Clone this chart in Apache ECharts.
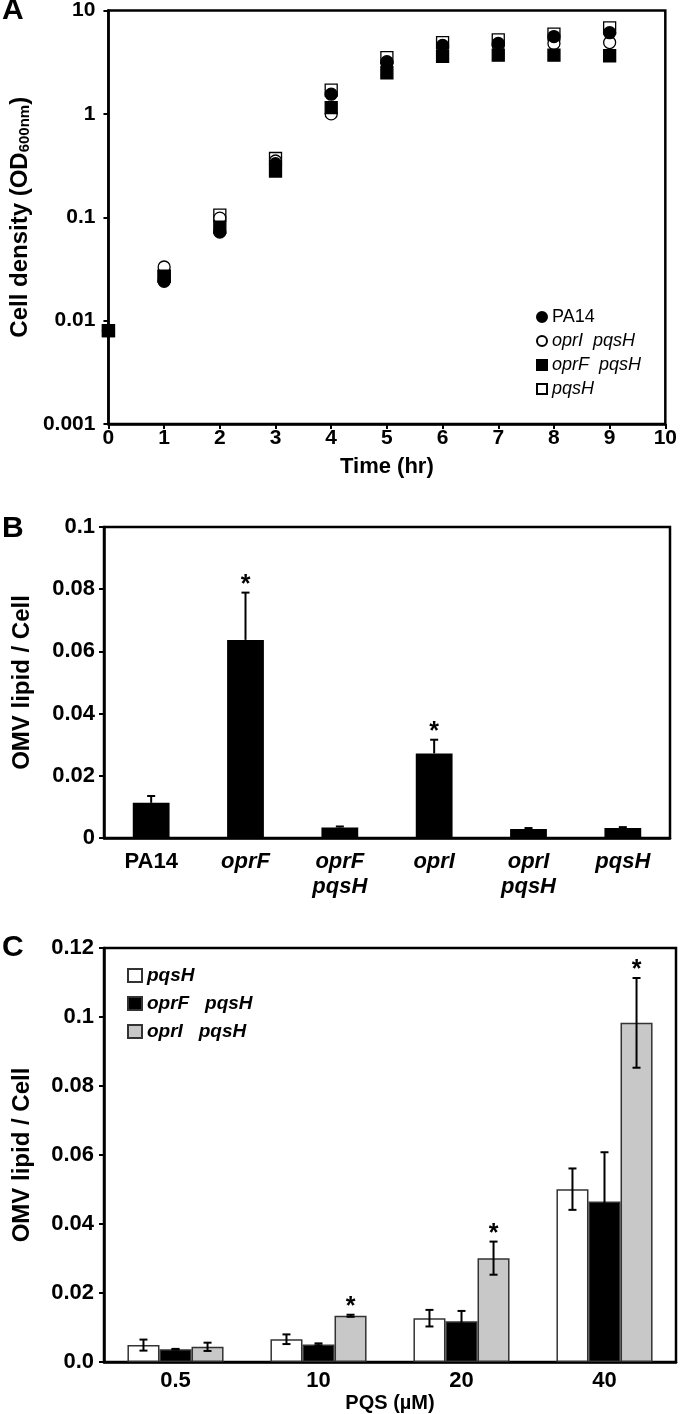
<!DOCTYPE html>
<html><head><meta charset="utf-8">
<script src="https://cdn.jsdelivr.net/npm/echarts@6/dist/echarts.min.js"></script>
<style>html,body{margin:0;padding:0;background:#fff}#c{width:680px;height:1414px}</style>
</head><body><div id="c"></div>
<script>
// ---------- Panel A data ----------
const timeHours = [0, 1, 2, 3, 4, 5, 6, 7, 8, 9];
const densityPA14     = [0.008, 0.024, 0.072, 0.33, 1.55, 3.2, 4.6, 4.8, 5.6, 6.1];
const densityOprIPqsH = [0.008, 0.033, 0.098, 0.35, 1.0, 3.1, 4.4, 4.6, 4.8, 4.9];
const densityOprFPqsH = [0.008, 0.027, 0.080, 0.28, 1.15, 2.5, 3.6, 3.7, 3.7, 3.65];
const densityPqsH     = [0.008, 0.027, 0.105, 0.37, 1.7, 3.5, 4.9, 5.2, 5.9, 6.8];
const yTicksA = ['0.001', '0.01', '0.1', '1', '10'];

// ---------- Panel B data ----------
const strainCategories = ['PA14', 'oprF', 'oprF\npqsH', 'oprI', 'oprI\npqsH', 'pqsH'];
const omvLipidB = [0.0113, 0.0637, 0.0034, 0.0272, 0.0029, 0.0032];
const omvErrB   = [0.0022, 0.0152, 0.0003, 0.0044, 0.0003, 0.0003];
const starB     = [0, 1, 0, 1, 0, 0];
const yTicksB = ['0', '0.02', '0.04', '0.06', '0.08', '0.1'];

// ---------- Panel C data ----------
const pqsDoses = ['0.5', '10', '20', '40'];
const omvPqsH      = [0.0049, 0.0066, 0.0127, 0.0501];
const errPqsH      = [0.0016, 0.0014, 0.0024, 0.0060];
const omvOprFPqsH  = [0.0037, 0.0051, 0.0118, 0.0465];
const errOprFPqsH  = [0.0001, 0.0003, 0.0030, 0.0143];
const omvOprIPqsH  = [0.0044, 0.0134, 0.0301, 0.0983];
const errOprIPqsH  = [0.0012, 0.0003, 0.0048, 0.0130];
const starOprIPqsH = [0, 1, 1, 1];
const yTicksC = ['0.0', '0.02', '0.04', '0.06', '0.08', '0.1', '0.12'];

const FF = "'Liberation Sans', Arial, Helvetica, sans-serif";
const tickLbl = { color: '#000', fontSize: 22, fontWeight: 'bold', fontFamily: FF };
const tickLblA = { color: '#000', fontSize: 21, fontWeight: 'bold', fontFamily: FF };
const nameStyle = { fontSize: 24, fontWeight: 'bold', fontFamily: FF, color: '#000' };
const axLine = { show: true, lineStyle: { color: '#000', width: 2.5 } };
const axTick = { show: true, inside: false, length: 5, lineStyle: { color: '#000', width: 2 } };
const gridBase = { show: true, borderColor: '#000', borderWidth: 2.5, backgroundColor: 'transparent', containLabel: false };

function scatterSeries(name, vals, sym, fill, z) {
  return {
    type: 'scatter', name: name, xAxisIndex: 0, yAxisIndex: 0, z: z, clip: false,
    symbol: sym, symbolSize: 12,
    itemStyle: { color: fill, borderColor: '#000', borderWidth: 1.3, opacity: 1 },
    data: timeHours.map((t, i) => [t, vals[i]])
  };
}

const capW = 8;
const starStyle = { text: '*', fill: '#000', font: 'bold 25px ' + FF, align: 'center', verticalAlign: 'bottom' };
function errB() {
  return {
    type: 'custom', xAxisIndex: 1, yAxisIndex: 1, z: 10,
    encode: { x: 0, y: 1 },
    data: omvLipidB.map((v, i) => [i, v, omvErrB[i], starB[i]]),
    renderItem: function (params, api) {
      const i = api.value(0), v = api.value(1), e = api.value(2), s = api.value(3);
      const c = api.coord([i, v]);
      const yt = api.coord([i, v + e])[1];
      const ch = [
        { type: 'line', shape: { x1: c[0], y1: c[1], x2: c[0], y2: yt }, style: { stroke: '#000', lineWidth: 2 } },
        { type: 'line', shape: { x1: c[0] - capW / 2, y1: yt, x2: c[0] + capW / 2, y2: yt }, style: { stroke: '#000', lineWidth: 2 } }
      ];
      if (s) ch.push({ type: 'text', x: c[0], y: yt + 5, style: starStyle });
      return { type: 'group', children: ch };
    }
  };
}

const barFrac = 0.224;
function errC(idx, vals, errs, stars) {
  return {
    type: 'custom', xAxisIndex: 2, yAxisIndex: 2, z: 10,
    encode: { x: 0, y: 1 },
    data: vals.map((v, i) => [i, v, errs[i], stars ? stars[i] : 0]),
    renderItem: function (params, api) {
      const i = api.value(0), v = api.value(1), e = api.value(2), s = api.value(3);
      const band = api.size([1, 0])[0];
      const bw = band * barFrac;
      const c = api.coord([i, v]);
      const x = c[0] + (idx - 1) * bw;
      const yt = api.coord([i, v + e])[1];
      const yb = api.coord([i, v - e])[1];
      const ch = [
        { type: 'line', shape: { x1: x, y1: yb, x2: x, y2: yt }, style: { stroke: '#000', lineWidth: 2 } },
        { type: 'line', shape: { x1: x - capW / 2, y1: yt, x2: x + capW / 2, y2: yt }, style: { stroke: '#000', lineWidth: 2 } },
        { type: 'line', shape: { x1: x - capW / 2, y1: yb, x2: x + capW / 2, y2: yb }, style: { stroke: '#000', lineWidth: 2 } }
      ];
      if (s) ch.push({ type: 'text', x: x, y: yt + 5, style: starStyle });
      return { type: 'group', children: ch };
    }
  };
}

function barC(name, vals, color) {
  return {
    type: 'bar', name: name, xAxisIndex: 2, yAxisIndex: 2,
    barWidth: (barFrac * 100) + '%', barGap: '0%',
    itemStyle: { color: color, borderColor: '#333', borderWidth: 1.5 },
    data: vals
  };
}

const chart = echarts.init(document.getElementById('c'), null, { renderer: 'canvas' });
chart.setOption({
  animation: false,
  backgroundColor: '#fff',
  title: [
    { text: 'A', left: 2, top: -4, padding: 0, textStyle: { fontSize: 30, fontWeight: 'bold', fontFamily: FF, color: '#000' } },
    { text: 'B', left: 2, top: 514, padding: 0, textStyle: { fontSize: 30, fontWeight: 'bold', fontFamily: FF, color: '#000' } },
    { text: 'C', left: 2, top: 933, padding: 0, textStyle: { fontSize: 30, fontWeight: 'bold', fontFamily: FF, color: '#000' } }
  ],
  grid: [
    Object.assign({ left: 104, top: 10, width: 566, height: 414 }, gridBase),
    Object.assign({ left: 104, top: 527, width: 566, height: 311 }, gridBase),
    Object.assign({ left: 104, top: 948, width: 572, height: 414 }, gridBase)
  ],
  legend: [
    {
      orient: 'vertical', left: 536, top: 308, itemWidth: 10, itemHeight: 10, itemGap: 6, padding: 0,
      textStyle: { fontSize: 18, fontFamily: FF, color: '#000' },
      data: [
        { name: 'PA14' },
        { name: 'oprI  pqsH', textStyle: { fontStyle: 'italic' } },
        { name: 'oprF  pqsH', textStyle: { fontStyle: 'italic' } },
        { name: 'pqsH', textStyle: { fontStyle: 'italic' } }
      ]
    },
    {
      orient: 'vertical', left: 127, top: 966, itemWidth: 14, itemHeight: 13, itemGap: 9, padding: 0,
      icon: 'rect',
      textStyle: { fontSize: 19, fontFamily: FF, color: '#000', fontWeight: 'bold', fontStyle: 'italic' },
      data: [
        { name: 'pqsH ' },
        { name: 'oprF   pqsH' },
        { name: 'oprI   pqsH' }
      ]
    }
  ],
  xAxis: [
    {
      type: 'value', gridIndex: 0, min: 0, max: 10, interval: 1,
      name: 'Time (hr)', nameLocation: 'middle', nameGap: 32,
      nameTextStyle: { fontSize: 22, fontWeight: 'bold', fontFamily: FF, color: '#000' },
      axisLine: axLine, axisTick: axTick, splitLine: { show: false },
      axisLabel: Object.assign({ margin: 4 }, tickLblA)
    },
    {
      type: 'category', gridIndex: 1, data: strainCategories.map((s, i) => ({ value: s, textStyle: { fontStyle: i === 0 ? 'normal' : 'italic' } })),
      axisLine: axLine, axisTick: { show: false },
      axisLabel: Object.assign({ margin: 11, lineHeight: 25, interval: 0 }, tickLbl)
    },
    {
      type: 'category', gridIndex: 2, data: pqsDoses,
      name: 'PQS (µM)', nameLocation: 'middle', nameGap: 31,
      nameTextStyle: { fontSize: 20, fontWeight: 'bold', fontFamily: FF, color: '#000' },
      axisLine: axLine, axisTick: { show: false },
      axisLabel: Object.assign({ margin: 8 }, tickLbl)
    }
  ],
  yAxis: [
    {
      type: 'log', gridIndex: 0, logBase: 10, min: 0.001, max: 10,
      name: 'Cell density (OD{s|600nm})', nameLocation: 'middle', nameGap: 75,
      nameTextStyle: Object.assign({ rich: { s: { fontSize: 15, fontWeight: 'bold', fontFamily: FF, color: '#000', verticalAlign: 'bottom' } } }, nameStyle),
      axisLine: axLine, axisTick: axTick, splitLine: { show: false }, minorTick: { show: false },
      axisLabel: Object.assign({ margin: 13, formatter: v => yTicksA[Math.round(Math.log10(v)) + 3] }, tickLblA)
    },
    {
      type: 'value', gridIndex: 1, min: 0, max: 0.1, interval: 0.02,
      name: 'OMV lipid / Cell', nameLocation: 'middle', nameGap: 70,
      nameTextStyle: nameStyle,
      axisLine: axLine, axisTick: axTick, splitLine: { show: false },
      axisLabel: Object.assign({ margin: 9, formatter: v => yTicksB[Math.round(v / 0.02)] }, tickLbl)
    },
    {
      type: 'value', gridIndex: 2, min: 0, max: 0.12, interval: 0.02,
      name: 'OMV lipid / Cell', nameLocation: 'middle', nameGap: 70,
      nameTextStyle: nameStyle,
      axisLine: axLine, axisTick: axTick, splitLine: { show: false },
      axisLabel: Object.assign({ margin: 10, formatter: v => yTicksC[Math.round(v / 0.02)] }, tickLbl)
    }
  ],
  series: [
    scatterSeries('PA14', densityPA14, 'circle', '#000', 5),
    scatterSeries('oprI  pqsH', densityOprIPqsH, 'circle', '#fff', 3),
    scatterSeries('oprF  pqsH', densityOprFPqsH, 'rect', '#000', 4),
    scatterSeries('pqsH', densityPqsH, 'rect', '#fff', 2),
    {
      type: 'bar', name: 'strainsB', xAxisIndex: 1, yAxisIndex: 1, barWidth: '39%',
      itemStyle: { color: '#000' }, data: omvLipidB
    },
    errB(),
    barC('pqsH ', omvPqsH, '#fff'),
    barC('oprF   pqsH', omvOprFPqsH, '#000'),
    barC('oprI   pqsH', omvOprIPqsH, '#c8c8c8'),
    errC(0, omvPqsH, errPqsH, null),
    errC(1, omvOprFPqsH, errOprFPqsH, null),
    errC(2, omvOprIPqsH, errOprIPqsH, starOprIPqsH)
  ]
});
</script></body></html>
